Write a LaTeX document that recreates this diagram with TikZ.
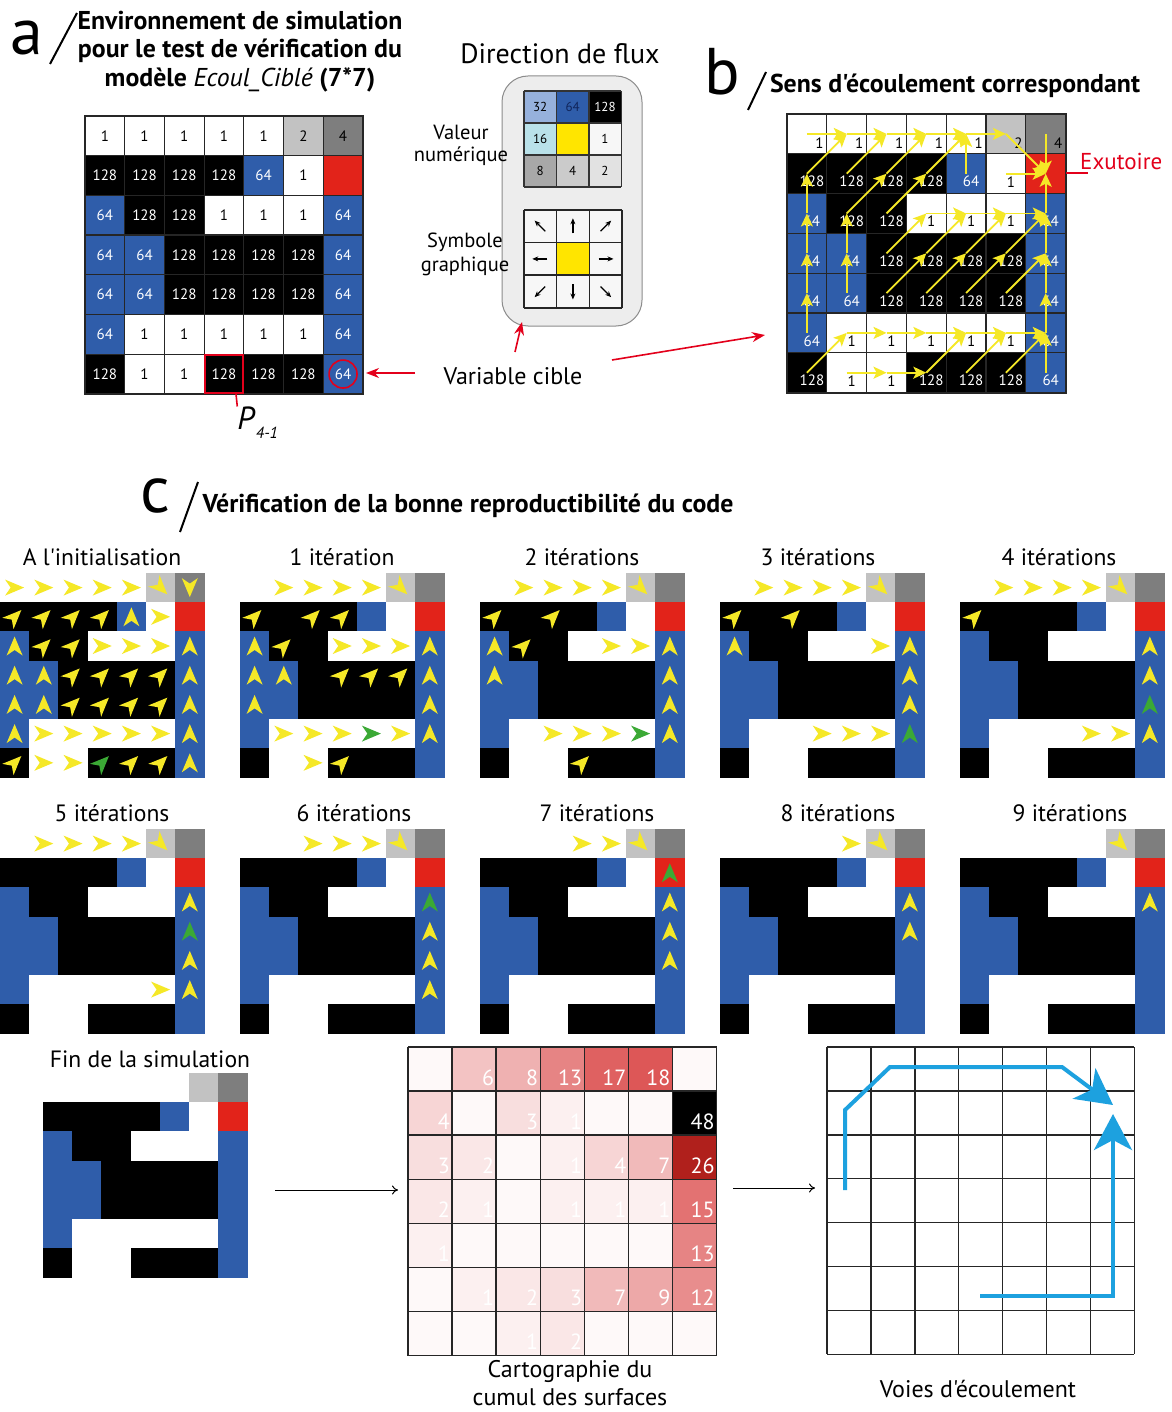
\documentclass[tikz,border=0pt]{standalone}
\usepackage{fontspec}
\setmainfont{PT Sans}[Ligatures=TeXOff]
\usetikzlibrary{arrows.meta}
\definecolor{cw}{HTML}{FFFFFF}
\definecolor{ck}{HTML}{000000}
\definecolor{cb}{HTML}{2F5DAA}
\definecolor{cl}{HTML}{C2C2C2}
\definecolor{cg}{HTML}{7E7E7E}
\definecolor{cr}{HTML}{E2231A}
\definecolor{cyel}{HTML}{F5E827}
\definecolor{cgreen}{HTML}{3BA935}
\definecolor{ared}{HTML}{E3001B}
\definecolor{vblue}{HTML}{1DA1DF}
\definecolor{cred}{HTML}{D42A2A}
\definecolor{cdark}{HTML}{B0201C}
\definecolor{boxbg}{HTML}{EDEDED}
\definecolor{tw}{HTML}{FFFFFF}
\definecolor{tk}{HTML}{000000}
\definecolor{lA}{HTML}{96B1DC}
\definecolor{lB}{HTML}{B9E1E9}
\definecolor{lY}{HTML}{FFE500}
\definecolor{lW}{HTML}{F7F7F7}
\definecolor{lC}{HTML}{A8A8A8}
\definecolor{lD}{HTML}{CBCBCB}
\definecolor{lE}{HTML}{E2E2E2}
\definecolor{lN}{HTML}{10245A}
\newcommand{\fs}[1]{\fontsize{#1}{#1}\selectfont}
% r/c/colour/angle/L/green/value/textcolour
\def\celldata{%
1/1/cw/0/0/-1/1/tk,1/2/cw/0/5/-1/1/tk,1/3/cw/0/6/-1/1/tk,1/4/cw/0/7/-1/1/tk,1/5/cw/0/8/-1/1/tk,1/6/cl/-45/9/-1/2/tk,1/7/cg/-90/0/-1/4/tk,
2/1/ck/45/4/-1/128/tw,2/2/ck/45/0/-1/128/tw,2/3/ck/45/3/-1/128/tw,2/4/ck/45/1/-1/128/tw,2/5/cb/90/0/-1/64/tw,2/6/cw/0/0/-1/1/tk,2/7/cr/90/-1/7//tk,
3/1/cb/90/3/-1/64/tw,3/2/ck/45/2/-1/128/tw,3/3/ck/45/0/-1/128/tw,3/4/cw/0/1/-1/1/tk,3/5/cw/0/2/-1/1/tk,3/6/cw/0/3/-1/1/tk,3/7/cb/90/9/6/64/tw,
4/1/cb/90/2/-1/64/tw,4/2/cb/90/1/-1/64/tw,4/3/ck/45/0/-1/128/tw,4/4/ck/45/1/-1/128/tw,4/5/ck/45/1/-1/128/tw,4/6/ck/45/1/-1/128/tw,4/7/cb/90/8/5/64/tw,
5/1/cb/90/1/-1/64/tw,5/2/cb/90/0/-1/64/tw,5/3/ck/45/0/-1/128/tw,5/4/ck/45/0/-1/128/tw,5/5/ck/45/0/-1/128/tw,5/6/ck/45/0/-1/128/tw,5/7/cb/90/7/4/64/tw,
6/1/cb/90/0/-1/64/tw,6/2/cw/0/1/-1/1/tk,6/3/cw/0/2/-1/1/tk,6/4/cw/0/3/-1/1/tk,6/5/cw/0/4/1/1/tk,6/6/cw/0/5/2/1/tk,6/7/cb/90/6/3/64/tw,
7/1/ck/45/0/-1/128/tw,7/2/cw/0/0/-1/1/tk,7/3/cw/0/1/-1/1/tk,7/4/ck/45/2/0/128/tw,7/5/ck/45/0/-1/128/tw,7/6/ck/45/0/-1/128/tw,7/7/cb/90/0/-1/64/tw}
\newcommand{\glyphat}[4]{\fill[#4, shift={(#1,#2)}, rotate=#3] (9.5,0) -- (-9.5,8) -- (-4,0) -- (-9.5,-8) -- cycle;}
\def\cs{29.2}
\newcommand{\itergrid}[3]{%
  \foreach \r/\c/\col/\ang/\L/\G/\v/\tc in \celldata {
    \fill[\col] ({#1+(\c-1)*\cs},{#2+(\r-1)*\cs}) rectangle ++(\cs+0.4,\cs+0.4);
  }
  \foreach \r/\c/\col/\ang/\L/\G/\v/\tc in \celldata {
    \pgfmathsetmacro\gx{#1+(\c-0.5)*\cs}
    \pgfmathsetmacro\gy{#2+(\r-0.5)*\cs}
    \ifnum\G=#3\relax
      \glyphat{\gx}{\gy}{\ang}{cgreen}
    \else\ifnum\L<#3\relax\else
      \glyphat{\gx}{\gy}{\ang}{cyel}
    \fi\fi
  }
}
\begin{document}
\begin{tikzpicture}[x=1pt,y=-1pt,
  big/.style={font=\fs{66}, inner sep=0pt},
  ttl/.style={font=\bfseries\fs{25.8}, inner sep=0pt},
  lab/.style={font=\fs{23.6}, inner sep=0pt},
  num/.style={font=\fs{15}, inner sep=0pt},
  lnum/.style={font=\fs{13}, inner sep=0pt},
  gline/.style={draw=black!85, line width=1.2},
  redarr/.style={draw=ared, line width=1.6, -{Stealth[length=13pt,width=10pt]}},
  barrow/.style={draw=cyel, line width=1.8, -{Stealth[length=13pt,width=12pt,inset=3pt]}},
  blackarr/.style={draw=black, line width=1, -{To[length=6pt,width=9pt]}},
  vway/.style={draw=vblue, line width=4, -{Stealth[length=36pt,width=38pt,inset=10pt]}}]
\useasboundingbox[fill=white] (0,0) rectangle (1171,1412);

% ---------------- panel a ----------------
\node[big] (la) at (27,38) {a};
\draw[line width=2] (50,64) -- (77,13);
\node[ttl] (ta1) at (240,21) {Environnement de simulation};
\node[ttl] (ta2) at (240,51) {pour le test de vérification du};
\node[ttl] (ta3) at (240,80) {modèle {\mdseries\itshape Ecoul\_Ciblé} (7*7)};
\foreach \r/\c/\col/\ang/\L/\G/\v/\tc in \celldata {
  \fill[\col] ({85+(\c-1)*39.7},{116+(\r-1)*39.7}) rectangle ++(39.9,39.9);
  \node[num, text=\tc] (a-\r-\c) at ({85+(\c-0.5)*39.7},{116+(\r-0.5)*39.7}) {\v};
}
\foreach \i in {0,...,7} {
  \draw[gline] ({85+\i*39.7},116) -- ++(0,277.9);
  \draw[gline] (85,{116+\i*39.7}) -- ++(277.9,0);
}
\draw[gline, line width=2] (85,116) rectangle (362.9,393.9);
\draw[ared, line width=1.6] (204.8,354.9) rectangle (243.1,393.2);
\draw[ared, line width=1.6] (a-7-7) circle (14);
\coordinate (pl) at (236,394);
\node[font=\itshape\fs{32}, inner sep=0pt] (P) at (246,418) {P};
\node[font=\itshape\fs{16}, inner sep=0pt] (Psub) at (267,433) {4-1};
\draw[ared, line width=1.6] (pl) -- (P.north west);

% ---------------- legend ----------------
\node[font=\fs{28}, inner sep=0pt] (dflux) at (560,54) {Direction de flux};
\node[draw=black!45, fill=boxbg, rounded corners=26pt, line width=1, minimum width=140pt, minimum height=250pt] (lbox) at (572,201) {};
\foreach \r/\c/\fc/\v/\tcol in {1/1/lA/32/tk,1/2/cb/64/lN,1/3/ck/128/tw,2/1/lB/16/tk,2/2/lY//tk,2/3/lW/1/tk,3/1/lC/8/tk,3/2/lD/4/tk,3/3/lE/2/tk} {
  \fill[\fc] ({524+(\c-1)*32.4},{91+(\r-1)*32}) rectangle ++(32.4,32);
  \node[lnum, text=\tcol] (v-\r-\c) at ({524+(\c-0.5)*32.4},{91+(\r-0.5)*32}) {\v};
}
\foreach \i in {0,...,3} {
  \draw[draw=black!80, line width=1.4] ({524+\i*32.4},91) -- ++(0,96);
  \draw[draw=black!80, line width=1.4] (524,{91+\i*32}) -- ++(97.2,0);
}
\node[font=\fs{20.5}, inner sep=0pt] (val1) at (461,132) {Valeur};
\node[font=\fs{20.5}, inner sep=0pt] (val2) at (461,156) {numérique};
\foreach \r/\c/\fc in {1/1/lW,1/2/lW,1/3/lW,2/1/lW,2/2/lY,2/3/lW,3/1/lW,3/2/lW,3/3/lW} {
  \fill[\fc] ({524+(\c-1)*32.6},{210+(\r-1)*32.6}) rectangle ++(32.6,32.6);
}
\foreach \r/\c/\a in {1/1/135,1/2/90,1/3/45,2/1/180,2/3/0,3/1/225,3/2/270,3/3/315} {
  \pgfmathsetmacro\na{0-\a}
  \draw[line width=1.3, -{Stealth[length=6pt,width=5pt]}] ({524+(\c-0.5)*32.6},{210+(\r-0.5)*32.6}) ++(\na:-7) -- ++(\na:15);
}
\foreach \i in {0,...,3} {
  \draw[draw=black!85, line width=1.4] ({524+\i*32.6},210) -- ++(0,97.8);
  \draw[draw=black!85, line width=1.4] (524,{210+\i*32.6}) -- ++(97.8,0);
}
\node[font=\fs{20.5}, inner sep=0pt] (sym1) at (465,242) {Symbole};
\node[font=\fs{20.5}, inner sep=0pt] (sym2) at (465,266) {graphique};
\node[font=\fs{24}, inner sep=0pt] (vc) at (513,376) {Variable cible};
\coordinate (vcup) at (515,352);
\coordinate (vcbox) at (522,322);
\coordinate (vcl) at (415,373);
\coordinate (vcr) at (612,360);
\coordinate (bin) at (765,335);
\draw[redarr] (vcup) -- (vcbox);
\draw[redarr] (vcl) -- (366,373);
\draw[redarr] (vcr) -- (bin);

% ---------------- panel b ----------------
\node[big] (lb) at (722,72) {b};
\draw[line width=2] (748,110) -- (766,72);
\node[ttl] (tb) at (955,86) {Sens d'écoulement correspondant};
\foreach \r/\c/\col/\ang/\L/\G/\v/\tc in \celldata {
  \fill[\col] ({787+(\c-1)*39.8},{114+(\r-1)*39.8}) rectangle ++(40,40);
}
\foreach \i in {0,...,7} {
  \draw[gline] ({787+\i*39.8},114) -- ++(0,278.6);
  \draw[gline] (787,{114+\i*39.8}) -- ++(278.6,0);
}
\draw[gline, line width=2] (787,114) rectangle (1065.6,392.6);
\foreach \r/\c/\col/\ang/\L/\G/\v/\tc in \celldata {
  \ifnum\r=1
    \node[num, text=\tc, anchor=base east] (b-\r-\c) at ({787+\c*39.8-3},{114+39.8-5}) {\v};
  \else
    \node[num, text=\tc] (b-\r-\c) at ({787+(\c-0.5)*39.8+5},{114+(\r-0.5)*39.8+8}) {\v};
  \fi
}
\foreach \r/\c/\col/\ang/\L/\G/\v/\tc in \celldata {
  \ifnum\L<0\relax\else
    \pgfmathsetmacro\na{0-(\ang)}
    \pgfmathsetmacro\len{39.8/max(abs(cos(\ang)),abs(sin(\ang)))}
    \draw[barrow] ({787+(\c-0.5)*39.8},{114+(\r-0.5)*39.8}) -- ++(\na:\len);
  \fi
}
\draw[ared, line width=1.4] (1066,173) -- (1088,173);
\node[font=\fs{23}, text=ared, anchor=west, inner sep=0pt] (exu) at (1080,161) {Exutoire};

% ---------------- panel c ----------------
\node[big] (lc) at (155,496) {c};
\draw[line width=2] (180,532) -- (198,482);
\node[ttl] (tc) at (468,506) {Vérification de la bonne reproductibilité du code};
\node[lab] (it0) at (102,557) {A l'initialisation};
\node[lab] (it1) at (342,557) {1 itération};
\node[lab] (it2) at (582,557) {2 itérations};
\node[lab] (it3) at (818,557) {3 itérations};
\node[lab] (it4) at (1059,557) {4 itérations};
\node[lab] (it5) at (112,813) {5 itérations};
\node[lab] (it6) at (354,813) {6 itérations};
\node[lab] (it7) at (597,813) {7 itérations};
\node[lab] (it8) at (838,813) {8 itérations};
\node[lab] (it9) at (1070,813) {9 itérations};
\itergrid{0}{573}{0}
\itergrid{240}{573}{1}
\itergrid{480}{573}{2}
\itergrid{720}{573}{3}
\itergrid{960}{573}{4}
\itergrid{0}{829}{5}
\itergrid{240}{829}{6}
\itergrid{480}{829}{7}
\itergrid{720}{829}{8}
\itergrid{960}{829}{9}
\node[lab] (fin) at (150,1059) {Fin de la simulation};
\itergrid{43}{1073}{99}

% ---------------- cartographie ----------------
\coordinate (f1) at (275,1190);
\coordinate (f2) at (398,1190);
\draw[blackarr] (f1) -- (f2);
\foreach \row [count=\r] in {{0,6,8,13,17,18,0},{4,0,3,1,0,0,48},{3,2,0,1,4,7,26},{2,1,0,1,1,1,15},{1,0,0,0,0,0,13},{0,1,2,3,7,9,12},{0,0,1,2,0,0,0}} {
  \foreach \v [count=\c] in \row {
    \ifnum\v=48
      \fill[black] ({408+(\c-1)*44.1},{1047+(\r-1)*44.1}) rectangle ++(44.1,44.1);
    \else\ifnum\v=26
      \fill[cdark] ({408+(\c-1)*44.1},{1047+(\r-1)*44.1}) rectangle ++(44.1,44.1);
    \else
      \pgfmathsetmacro\p{min(4.2*\v+3,80)}
      \fill[cred!\p!white] ({408+(\c-1)*44.1},{1047+(\r-1)*44.1}) rectangle ++(44.1,44.1);
    \fi\fi
    \ifnum\v>0
      \node[font=\fs{22}, text=white, anchor=base east, inner sep=0pt] (k-\r-\c) at ({408+\c*44.1-2},{1047+\r*44.1-6}) {\v};
    \fi
  }
}
\foreach \i in {0,...,7} {
  \draw[black!85, line width=1.5] ({408+\i*44.1},1047) -- ++(0,308.7);
  \draw[black!85, line width=1.5] (408,{1047+\i*44.1}) -- ++(308.7,0);
}
\node[font=\fs{24}, inner sep=0pt] (cart1) at (570,1371) {Cartographie du};
\node[font=\fs{24}, inner sep=0pt] (cart2) at (570,1397) {cumul des surfaces};
\coordinate (g1) at (733,1188);
\coordinate (g2) at (815,1188);
\draw[blackarr] (g1) -- (g2);

% ---------------- voies ----------------
\foreach \i in {0,...,7} {
  \draw[black!85, line width=1.5] ({827+\i*43.9},1047) -- ++(0,307.3);
  \draw[black!85, line width=1.5] (827,{1047+\i*43.9}) -- ++(307.3,0);
}
\coordinate (w1) at (845,1190);
\coordinate (w1e) at (1113,1105);
\coordinate (w2) at (980,1296);
\coordinate (w2e) at (1113,1114);
\draw[vway] (w1) -- (845,1110) -- (890,1067) -- (1062,1067) -- (w1e);
\draw[vway] (w2) -- (1113,1296) -- (w2e);
\node[font=\fs{24}, inner sep=0pt] (voies) at (978,1389) {Voies d'écoulement};
\end{tikzpicture}
\end{document}
